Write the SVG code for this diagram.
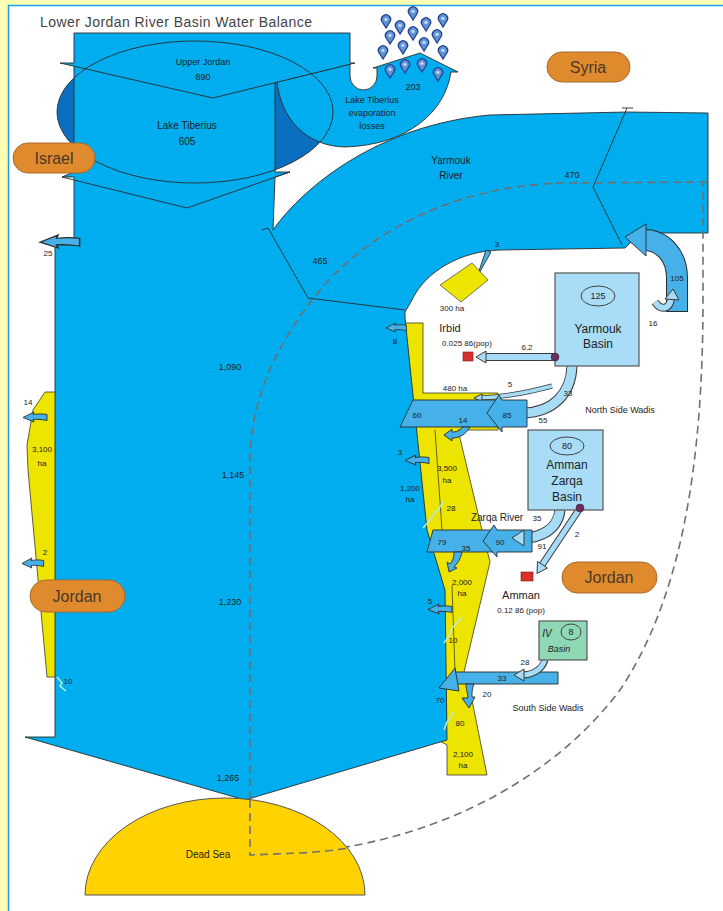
<svg xmlns="http://www.w3.org/2000/svg" width="723" height="911" viewBox="0 0 723 911">
<defs>
<style>
.t{font-family:"Liberation Sans",Arial,sans-serif;fill:#222;text-anchor:middle}
.s8{font-size:8px}.s9{font-size:9px}.s10{font-size:10px}.s11{font-size:11px}.s12{font-size:12px}
.water{fill:#00AEEF;stroke:#2b2b2b;stroke-width:0.9}
.trib{fill:#45B1E8;stroke:#2b2b2b;stroke-width:0.9}
.yel{fill:#EDE400;stroke:#3a3a2a;stroke-width:0.8}
.pill{fill:#E08A2E;stroke:#A9692A;stroke-width:1}
.pt{font-family:"Liberation Sans",Arial,sans-serif;font-size:16px;fill:#4a3826;text-anchor:middle}
.box{fill:#A9DDF7;stroke:#555;stroke-width:1.2}
.lbo{fill:none;stroke:#3a3a3a}
.lbi{fill:none;stroke:#A6DCF5}
.lbh{fill:#A6DCF5;stroke:#3a3a3a;stroke-width:1}
.ret{fill:none;stroke:#B4EBD6;stroke-width:1.6}
.dash{fill:none;stroke:#707070;stroke-width:1.6;stroke-dasharray:8 5}
.drop{fill:#5E93D6;stroke:#233F8F;stroke-width:1.3}
.line{fill:none;stroke:#2b2b2b;stroke-width:0.9}
</style>
<path id="sa" d="M24,2.5 C18,1.5 14,2 10,2.5 L11,0 L0,5.5 L11,10 L10,7.5 C15,7 19,7.5 24,8.5 Z"/>
<g id="dr"><path class="drop" d="M0,6 L-3.8,0 A4.6,4.6 0 1 1 3.8,0 Z"/><circle cx="0" cy="-2.6" r="1.7" fill="#C4D9F3"/></g>
</defs>

<rect width="723" height="911" fill="#FFFFB4"/>
<rect x="8.5" y="5.5" width="720" height="910" fill="#fff" stroke="#1E9BEA" stroke-width="1.5"/>

<text class="t" x="40" y="27" style="text-anchor:start;font-size:14px;fill:#444" textLength="272">Lower Jordan River Basin Water Balance</text>

<!-- irrigated areas -->
<g id="israel-irrigation">
<polygon class="yel" points="45,392 58,392 58,677 47,677 28,470 27,445 33,410"/>
</g>
<g id="jordan-irrigation">
<polygon class="yel" points="398,323 423,323 423,393 498,393 498,430 458,430 482,530 490,562 464,672 470,690 487,775 447,775 447,745 438,740 438,590 420,530"/>
<polyline class="line" points="435,430 442,530" style="stroke-width:0.7"/>
<polyline class="line" points="452,585 455,672" style="stroke-width:0.7"/>
</g>

<!-- Lake Tiberius ellipse -->
<g id="lake-tiberius">
<ellipse cx="195" cy="112" rx="138" ry="71" fill="#0A6FC0"/>
</g>

<g id="evaporation">
<path class="water" d="M277,82 L350,64 L350,76 A13.5,14 0 0 0 377,76 L377,68 L373,68 L420,53 L458,72 L451,72 C445,112 408,145 345,147 C305,146 281,118 277,82 Z"/>
<use href="#dr" x="413" y="14"/><use href="#dr" x="386" y="22"/><use href="#dr" x="443" y="21"/>
<use href="#dr" x="400" y="28"/><use href="#dr" x="426" y="25"/>
<use href="#dr" x="390" y="38"/><use href="#dr" x="413" y="34"/><use href="#dr" x="437" y="37"/>
<use href="#dr" x="403" y="48"/><use href="#dr" x="424" y="45"/>
<use href="#dr" x="383" y="53"/><use href="#dr" x="443" y="53"/>
<use href="#dr" x="390" y="72"/><use href="#dr" x="405" y="67"/><use href="#dr" x="422" y="66"/><use href="#dr" x="438" y="75"/>
<text class="t s9" x="413" y="90">203</text>
<text class="t s9" x="372" y="103">Lake Tiberius</text>
<text class="t s9" x="372" y="116">evaporation</text>
<text class="t s9" x="372" y="129">losses</text>
</g>

<!-- main river: Jordan trunk and Yarmouk -->
<g id="main-river">
<path class="water" d="M74,63 L275,63 L275,172 L290,172 L275,177 L273,230 C305,185 380,125 490,115 L627,112 L708,113 L708,233 L640,233 L625,248 L500,250 C460,251 425,272 412,300 L405,312 L405,318 L427,530 L445,590 L447,740 L245,800 L25,737 L55,737 L55,245 L74,245 L74,177 L62,177 L74,172 Z"/>
</g>

<g id="upper-jordan">
<polygon class="water" points="74,33 350,33 350,63 355,63 213,98 60,63 74,63"/>
<ellipse cx="195" cy="112" rx="138" ry="71" class="line"/>
<polyline class="line" points="62,177 187,208 290,172"/>
<text class="t s9" x="203" y="65">Upper Jordan</text>
<text class="t s9" x="203" y="80">890</text>
<text class="t s10" x="187" y="129">Lake Tiberius</text>
<text class="t s10" x="187" y="145">605</text>
</g>

<g id="yarmouk-river">
<polyline class="line" points="627,108 593,187 622,245"/>
<polyline class="line" points="622,108 633,108"/>
<polyline class="line" points="262,230 268,228 308,298 405,310"/>
<text class="t s10" x="451" y="164">Yarmouk</text>
<text class="t s10" x="451" y="179">River</text>
<text class="t s9" x="572" y="178">470</text>
<text class="t s9" x="320" y="264">465</text>
</g>

<!-- basin boundary -->
<path class="dash" d="M707,182 L560,183 C470,186 380,220 320,290 C275,345 251,400 250,460 L250,855 L300,853 C450,840 560,770 620,690 C680,600 703,470 703,300 L703,183"/>

<!-- Dead Sea -->
<g id="dead-sea">
<path d="M85,895 A140,97 0 0 1 365,895 Z" fill="#FFD200" stroke="#555" stroke-width="1"/>
<path class="dash" d="M250,800 L250,855 L300,853 C320,852 335,850 350,848"/>
<text class="t s10" x="208" y="858">Dead Sea</text>
</g>

<!-- tributary flows / connectors -->
<g id="connectors">
<!-- 105 return to Yarmouk -->
<path d="M677,312 L677,278 C677,255 662,240 644,240" fill="none" stroke="#2b2b2b" stroke-width="22"/>
<path d="M677,311 L677,278 C677,255 662,240 644,240" fill="none" stroke="#45B1E8" stroke-width="20"/>
<polygon class="trib" points="646,224 625,237 646,256"/>
<!-- 16 -->
<path class="lbo" style="stroke-width:8" d="M655,302 C662,312 670,308 671,298"/>
<path class="lbi" style="stroke-width:6" d="M655,302 C662,312 670,308 671,298"/>
<polygon class="lbh" points="665,299 673,289 679,300"/>
<!-- Irbid 6.2 -->
<path class="lbo" style="stroke-width:8" d="M555,357 L484,357"/>
<path class="lbi" style="stroke-width:6" d="M556,357 L484,357"/>
<polygon class="lbh" points="486,351 476,357 486,363"/>
<!-- Yarmouk basin to north side wadis -->
<path class="lbo" style="stroke-width:11" d="M572,366 C571,395 552,412 524,413"/>
<path class="lbi" style="stroke-width:9" d="M572,365 C571,395 552,412 524,413"/>
<polygon class="lbh" points="526,405 514,413 526,421"/>
<!-- thin 5 -->
<path class="lbo" style="stroke-width:5" d="M552,386 C530,392 505,397 480,398"/>
<path class="lbi" style="stroke-width:3.5" d="M552,386 C530,392 505,397 480,398"/>
<polygon class="lbh" points="482,394 474,398 482,402"/>
<!-- North side wadis -->
<polygon class="trib" points="500,400 413,400 400,427 500,427"/>
<polygon class="trib" points="527,400 502,400 499,395 487,413 502,432 502,427 527,427"/>
<path class="trib" d="M470,427 L462,427 C460,431 456,432 452,432 L452,429 L444,435 L452,441 L452,438 C460,438 466,434 470,427 Z"/>
<!-- Zarqa -->
<path class="lbo" style="stroke-width:11" d="M560,510 C558,530 540,538 522,538"/>
<path class="lbi" style="stroke-width:9" d="M560,509 C558,530 540,538 522,538"/>
<polygon class="trib" points="497,530 433,530 427,552 497,552"/>
<polygon class="trib" points="532,530 497,530 494,525 483,541 497,557 497,552 532,552"/>
<polygon class="lbh" points="524,530 512,538 524,546"/>
<path class="trib" d="M462,552 L454,552 C454,558 452,562 450,564 L447,562 L449,572 L457,568 L454,567 C458,563 461,558 462,552 Z"/>
<!-- Amman 2 -->
<path class="lbo" style="stroke-width:7" d="M580,508 L542,565"/>
<path class="lbi" style="stroke-width:5" d="M580,508 L542,565"/>
<polygon class="lbh" points="547.5,568 537,573.5 537.5,561.4"/>
<!-- South side wadis -->
<polygon class="trib" points="558,672 452,672 452,684 558,684"/>
<polygon class="trib" points="455,668 439,688 459,691"/>
<path class="trib" d="M466,684 C466,690 468,694 468,698 L462,698 L469,708 L475,697 L472,697 C472,692 472,688 474,684 Z"/>
<path class="lbo" style="stroke-width:7" d="M545,660 C542,670 532,675 522,675"/>
<path class="lbi" style="stroke-width:5" d="M545,659 C542,670 532,675 522,675"/>
<polygon class="lbh" points="524,669 514,675 524,681"/>
<!-- Irbid supply 3 -->
<path class="trib" d="M486,250 L478,274 L474,272 L470,284 L480,278 L477,277 L491,252 Z"/>
<!-- small outflow arrows -->
<use href="#sa" class="trib" transform="translate(40,235) scale(1.65,1.3)"/>
<use href="#sa" class="trib" transform="translate(23,412)"/>
<use href="#sa" class="trib" transform="translate(22,558) scale(0.9,1)"/>
<use href="#sa" class="trib" transform="translate(386,323) scale(0.85,0.9)"/>
<use href="#sa" class="trib" transform="translate(405,455)"/>
<use href="#sa" class="trib" transform="translate(428,604)"/>
<!-- return flows -->
<polyline class="ret" points="57,677 62,683 60,686 66,691"/>
<polyline class="ret" points="443,502 438,510 435,512 430,520 423,528"/>
<polyline class="ret" points="462,617 455,625 452,628 449,636 444,643"/>
<polyline class="ret" points="453,712 449,720 447,722 444,730"/>
</g>

<g id="irbid">
<polygon points="440,285 472,263 488,280 461,302" fill="#EDE400" stroke="#555" stroke-width="0.8"/>
<rect x="463" y="352" width="10" height="9" fill="#D8312A" stroke="#7a1a14" stroke-width="0.6"/>
<text class="t s8" x="497" y="247">3</text>
<text class="t s8" x="452" y="311">300 ha</text>
<text class="t s11" x="450" y="332">Irbid</text>
<text class="t s8" x="467" y="346">0.025 86(pop)</text>
<text class="t s8" x="527" y="350">6.2</text>
</g>

<g id="yarmouk-basin">
<rect class="box" x="555" y="273" width="84" height="93"/>
<ellipse cx="598" cy="296" rx="17" ry="10" fill="none" stroke="#444" stroke-width="1"/>
<text class="t s9" x="598" y="299">125</text>
<text class="t s12" x="598" y="333">Yarmouk</text>
<text class="t s12" x="598" y="348">Basin</text>
<circle cx="555" cy="357" r="4" fill="#6E2B5E" stroke="#333" stroke-width="0.6"/>
</g>

<g id="amman-zarqa-basin">
<rect class="box" x="528" y="430" width="75" height="80"/>
<ellipse cx="567" cy="446" rx="17" ry="9" fill="none" stroke="#444" stroke-width="1"/>
<text class="t s9" x="567" y="449">80</text>
<text class="t s12" x="567" y="469">Amman</text>
<text class="t s12" x="567" y="485">Zarqa</text>
<text class="t s12" x="567" y="501">Basin</text>
<circle cx="580" cy="508" r="4" fill="#6E2B5E" stroke="#333" stroke-width="0.6"/>
</g>

<g id="amman">
<rect x="521" y="572" width="12" height="9" fill="#D8312A" stroke="#7a1a14" stroke-width="0.6"/>
<text class="t s11" x="521" y="599">Amman</text>
<text class="t s8" x="521" y="613">0.12 86 (pop)</text>
</g>

<g id="iv-basin">
<rect x="539" y="621" width="48" height="39" fill="#8ED8B5" stroke="#555" stroke-width="1.2"/>
<text class="t s10" x="547" y="637" style="font-style:italic">IV</text>
<ellipse cx="571" cy="632" rx="10" ry="8" fill="none" stroke="#444" stroke-width="1"/>
<text class="t s9" x="571" y="635">8</text>
<text class="t s9" x="559" y="652" style="font-style:italic">Basin</text>
</g>

<g id="labels">
<text class="t s8" x="48" y="256">25</text>
<text class="t s9" x="230" y="370">1,090</text>
<text class="t s9" x="233" y="478">1,145</text>
<text class="t s9" x="230" y="605">1,230</text>
<text class="t s9" x="228" y="781">1,265</text>
<text class="t s8" x="28" y="405">14</text>
<text class="t s8" x="42" y="452">3,100</text>
<text class="t s8" x="42" y="466">ha</text>
<text class="t s8" x="45" y="555">2</text>
<text class="t s8" x="68" y="684">10</text>
<text class="t s8" x="395" y="344">8</text>
<text class="t s8" x="677" y="281">105</text>
<text class="t s8" x="653" y="326">16</text>
<text class="t s8" x="455" y="391">480 ha</text>
<text class="t s8" x="510" y="387">5</text>
<text class="t s8" x="568" y="396">33</text>
<text class="t s8" x="543" y="423">55</text>
<text class="t s9" x="620" y="413">North Side Wadis</text>
<text class="t s8" x="417" y="418">60</text>
<text class="t s8" x="463" y="423">14</text>
<text class="t s8" x="507" y="418">85</text>
<text class="t s8" x="400" y="455">3</text>
<text class="t s8" x="447" y="471">3,500</text>
<text class="t s8" x="447" y="483">ha</text>
<text class="t s8" x="410" y="491">1,200</text>
<text class="t s8" x="410" y="502">ha</text>
<text class="t s8" x="451" y="511">28</text>
<text class="t s10" x="497" y="521">Zarqa River</text>
<text class="t s8" x="537" y="521">35</text>
<text class="t s8" x="577" y="537">2</text>
<text class="t s8" x="442" y="545">79</text>
<text class="t s8" x="466" y="551">35</text>
<text class="t s8" x="500" y="545">90</text>
<text class="t s8" x="542" y="549">91</text>
<text class="t s8" x="462" y="585">2,000</text>
<text class="t s8" x="462" y="596">ha</text>
<text class="t s8" x="430" y="604">5</text>
<text class="t s8" x="453" y="643">10</text>
<text class="t s8" x="525" y="665">28</text>
<text class="t s8" x="502" y="681">33</text>
<text class="t s8" x="487" y="697">20</text>
<text class="t s8" x="440" y="703">70</text>
<text class="t s9" x="548" y="711">South Side Wadis</text>
<text class="t s8" x="460" y="726">80</text>
<text class="t s8" x="463" y="757">2,100</text>
<text class="t s8" x="463" y="768">ha</text>
</g>

<g id="country-israel">
<rect class="pill" x="13" y="143" width="82" height="30" rx="15"/>
<text class="pt" x="54" y="164">Israel</text>
</g>
<g id="country-syria">
<rect class="pill" x="547" y="52" width="83" height="30" rx="15"/>
<text class="pt" x="588" y="73">Syria</text>
</g>
<g id="country-jordan-west">
<rect class="pill" x="30" y="580" width="95" height="32" rx="16"/>
<text class="pt" x="77" y="602">Jordan</text>
</g>
<g id="country-jordan-east">
<rect class="pill" x="562" y="562" width="95" height="31" rx="15.5"/>
<text class="pt" x="609" y="583">Jordan</text>
</g>
</svg>
